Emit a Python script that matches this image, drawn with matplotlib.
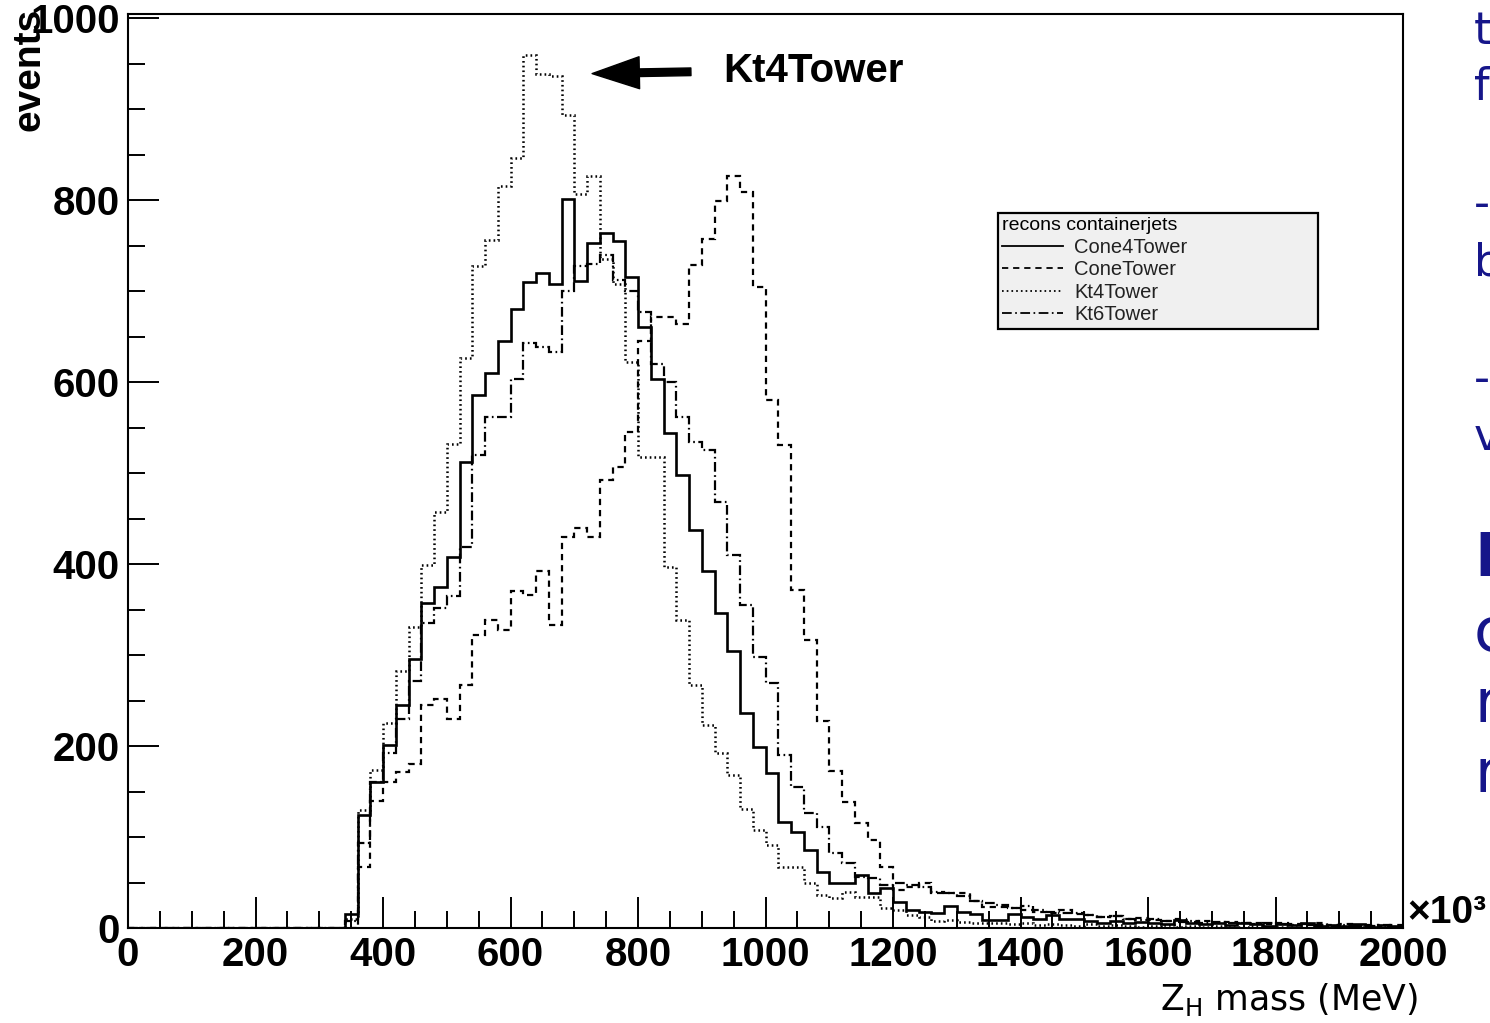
# ROOT style histogram of reconstructed Z_H mass for four jet containers

import numpy as np
import matplotlib.pyplot as plt
from matplotlib.ticker import MultipleLocator
from matplotlib.lines import Line2D

plt.rcParams['font.family'] = ['Liberation Sans', 'DejaVu Sans']
plt.rcParams['lines.scale_dashes'] = False

# bins of 20 (x10^3 MeV), first filled bin starts at 340
bin_edges = np.arange(0, 2001, 20)
first_bin = 340

cone4 = [15, 124, 160, 201, 245, 296, 357, 375, 408, 512, 586, 610, 645, 680, 710,
         720, 708, 801, 711, 753, 764, 755, 716, 661, 603, 544, 498, 437, 392, 346,
         304, 236, 199, 170, 116, 106, 86, 62, 49, 49, 58, 38, 44,
         29, 20, 18, 16, 24, 18, 15, 9, 9, 15, 12, 10, 14, 10, 10, 8, 6, 8, 5, 7,
         6, 4, 9, 5, 4, 6, 3, 5, 4, 2, 4, 3, 5, 2, 3, 2, 4, 1, 3, 2]
cone = [0, 67, 140, 161, 171, 180, 245, 252, 230, 267, 322, 339, 327, 370, 366,
        392, 333, 430, 440, 430, 492, 507, 545, 645, 672, 672, 664, 729, 757, 799,
        826, 809, 705, 580, 531, 372, 317, 227, 172, 139, 115, 97, 67,
        42, 45, 50, 38, 38, 38, 30, 23, 23, 22, 20, 18, 17, 20, 15, 14, 12, 13, 10, 11,
        9, 8, 10, 7, 8, 6, 7, 5, 6, 4, 5, 4, 3, 5, 3, 4, 2, 3, 2, 3]
kt4 = [10, 130, 174, 225, 282, 331, 399, 457, 532, 626, 727, 756, 815, 846, 959,
       939, 936, 893, 807, 826, 735, 708, 622, 518, 518, 397, 338, 267, 223, 192,
       168, 131, 108, 91, 67, 67, 49, 36, 33, 40, 34, 34, 22,
       20, 14, 12, 8, 9, 7, 6, 5, 6, 4, 5, 3, 4, 3, 2, 4, 2, 3, 2, 1,
       2, 3, 1, 2, 1, 2, 1, 1, 2, 0, 1, 1, 0, 1, 1, 0, 1, 0, 1, 0]
kt6 = [8, 93, 161, 192, 230, 272, 335, 352, 365, 419, 520, 562, 562, 603, 643,
       639, 633, 700, 728, 730, 740, 712, 700, 677, 620, 600, 562, 534, 525, 468,
       410, 355, 298, 269, 190, 155, 126, 111, 82, 71, 56, 55, 47,
       50, 47, 45, 40, 38, 35, 30, 28, 25, 22, 24, 20, 18, 16, 17, 14, 12, 13, 10, 9,
       10, 8, 7, 8, 6, 7, 5, 6, 4, 5, 4, 3, 4, 3, 2, 3, 2, 2, 3, 1]

names = ['Cone4Tower', 'ConeTower', 'Kt4Tower', 'Kt6Tower']
side_text = ['te', 'f', '-c', 'b', '-', 'v', 'K', 'c', 'r', 'r']

styles = {
    'Cone4Tower': dict(ls='-', lw=1.9),
    'ConeTower': dict(ls=(0, (4.5, 3.5)), lw=1.6),
    'Kt4Tower': dict(ls=(0, (1.2, 2.2)), lw=1.8),
    'Kt6Tower': dict(ls=(0, (7, 2.5, 1.2, 2.5)), lw=1.6),
}


def to_counts(vals):
    counts = np.zeros(len(bin_edges) - 1)
    i0 = first_bin // 20
    counts[i0:i0 + len(vals)] = vals
    return counts


fig = plt.figure(figsize=(14.9, 10.23), dpi=100)
ax = fig.add_axes([128 / 1490, 95 / 1023, 1275 / 1490, 914 / 1023])

handles = []
for name, vals in zip(names, [cone4, cone, kt4, kt6]):
    st = styles[name]
    ax.stairs(to_counts(vals), bin_edges, color='black', linestyle=st['ls'],
              linewidth=st['lw'], baseline=0)
    handles.append(Line2D([], [], color='black', linestyle=st['ls'], linewidth=1.3))

ax.set_xlim(0, 2000)
ax.set_ylim(0, 1004.5)
ax.xaxis.set_major_locator(MultipleLocator(200))
ax.xaxis.set_minor_locator(MultipleLocator(50))
ax.yaxis.set_major_locator(MultipleLocator(200))
ax.yaxis.set_minor_locator(MultipleLocator(50))
ax.tick_params(which='both', direction='in', width=1.4, top=False, right=False)
ax.tick_params(which='major', length=22, labelsize=29, pad=6)
ax.tick_params(which='minor', length=12)
for lab in ax.get_xticklabels() + ax.get_yticklabels():
    lab.set_fontweight('bold')
for sp in ax.spines.values():
    sp.set_linewidth(1.5)

leg = ax.legend(handles, names, title='recons containerjets', loc='upper left',
                bbox_to_anchor=(998 / 1490, 1 - 214 / 1023, 320 / 1490, 0.001),
                bbox_transform=fig.transFigure, mode='expand', fontsize=14.5,
                title_fontsize=14, alignment='left', handlelength=3.0,
                handletextpad=0.55, labelspacing=0.17, borderpad=0.22,
                borderaxespad=0, fancybox=False, framealpha=1)
leg.get_frame().set_facecolor('#f0f0f0')
leg.get_frame().set_edgecolor('black')
leg.get_frame().set_linewidth(1.6)
for t in leg.get_texts():
    t.set_color('#222222')

# arrow pointing at the Kt4Tower peak
ax.annotate('', xy=(728, 939), xytext=(883, 941),
            arrowprops=dict(facecolor='black', edgecolor='black', width=5.5,
                            headwidth=23, headlength=34, shrink=0))
ax.text(933, 942, 'Kt4Tower', fontsize=29, fontweight='bold', va='center', ha='left')

fig.text(30 / 1490, 1 - 8 / 1023, 'events', rotation=90, ha='center', va='top',
         fontsize=28, fontweight='bold')
fig.text(1407 / 1490, 1 - 913 / 1023, '\u00d710\u00b3', ha='left', va='center',
         fontsize=28, fontweight='bold')
fig.text(1418 / 1490, 1 - 1000 / 1023, r'Z$_\mathregular{H}$ mass (MeV)', ha='right',
         va='center', fontsize=25, family='DejaVu Sans')

# slide text cut off at the right edge
side_y = [32, 88, 205, 263, 380, 437, 560, 635, 705, 775]
for i, (s, y) in enumerate(zip(side_text, side_y)):
    big = i >= 6
    fig.text(1474 / 1490, 1 - y / 1023, s, ha='left', va='center', color='#16168a',
             fontsize=44 if big else 32, family='DejaVu Sans',
             fontweight='bold' if s == 'K' else 'normal')

fig.savefig('out.png', dpi=100)
